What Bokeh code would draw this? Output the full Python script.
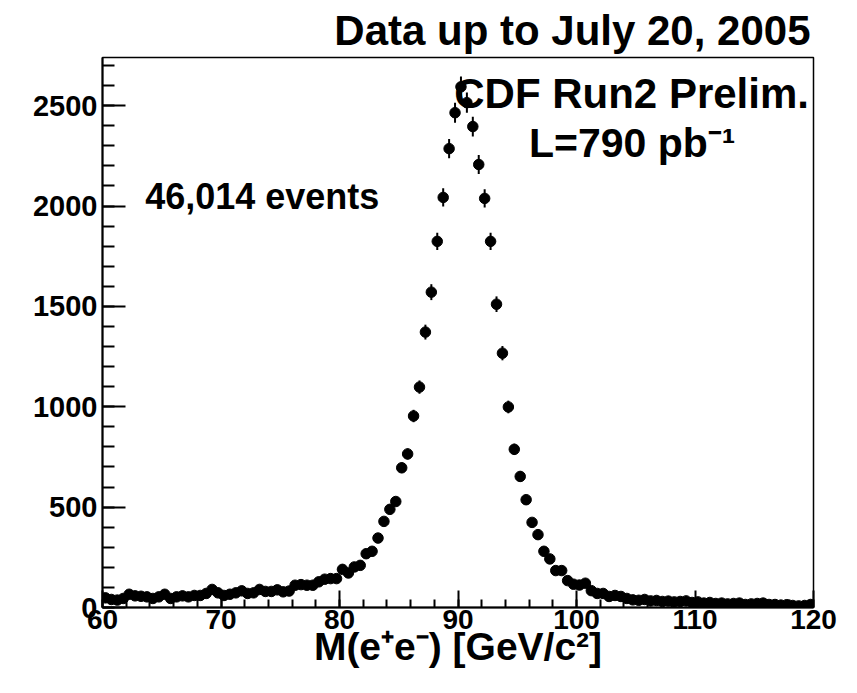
import numpy as np
from bokeh.plotting import figure
from bokeh.models import Range1d, FixedTicker, Label, ColumnDataSource
from bokeh.embed import file_html
from bokeh.resources import INLINE

# ---- data: dielectron invariant mass histogram (0.5 GeV bins, 60-120 GeV)
bin_low = 60.0
bin_width = 0.5
counts = [
    48, 40, 37, 45, 66, 58, 56, 53, 45, 53,          # 60 - 65
    66, 45, 53, 58, 53, 60, 60, 70, 90, 73,          # 65 - 70
    60, 66, 73, 83, 70, 73, 90, 80, 80, 88,          # 70 - 75
    78, 82, 111, 114, 111, 111, 128, 141, 144, 144,  # 75 - 80
    190, 172, 202, 210, 268, 280, 346, 429, 489, 528,  # 80 - 85
    696, 765, 954, 1098, 1372, 1571, 1824, 2043, 2286, 2465,  # 85 - 90
    2594, 2515, 2396, 2207, 2038, 1824, 1511, 1267, 999, 788,  # 90 - 95
    653, 537, 424, 363, 280, 242, 184, 184, 134, 116,  # 95 - 100
    112, 121, 84, 70, 70, 55, 60, 55, 45, 38,        # 100 - 105
    36, 40, 33, 35, 30, 32, 28, 30, 33, 25,          # 105 - 110
    28, 22, 25, 20, 22, 18, 20, 22, 15, 18,          # 110 - 115
    20, 22, 15, 15, 12, 14, 10, 8, 10, 15,           # 115 - 120
]
x_major = [60, 70, 80, 90, 100, 110, 120]
x_minor = list(range(60, 121, 2))
y_major = [0, 500, 1000, 1500, 2000, 2500]
y_minor = list(range(0, 2701, 100))

title_text = "Data up to July 20, 2005"
exp_text = "CDF Run2 Prelim."
lumi_text = "L=790 pb\u207b\u00b9"
events_text = "46,014 events"
xlabel_text = "M(e\u207ae\u207b) [GeV/c\u00b2]"

centers = bin_low + bin_width * (np.arange(len(counts)) + 0.5)
cnt = np.array(counts, dtype=float)
err = np.sqrt(cnt)
src = ColumnDataSource(dict(x=centers, y=cnt, lo=cnt - err, hi=cnt + err))

FONT = "Liberation Sans"

p = figure(width=841, height=677, output_backend="svg", toolbar_location=None,
           x_range=Range1d(60, 120), y_range=Range1d(0, 2740),
           min_border_left=102, min_border_right=28,
           min_border_top=57, min_border_bottom=70)
p.xgrid.visible = False
p.ygrid.visible = False
p.outline_line_color = "black"
p.outline_line_width = 1.5
p.background_fill_color = "white"
p.border_fill_color = "white"

p.title.text = title_text
p.title.align = "right"
p.title.text_font = FONT
p.title.text_font_style = "bold"
p.title.text_font_size = "42px"
p.title.text_color = "black"
p.title.standoff = 7
p.title.offset = 3

xa = p.xaxis[0]
xa.ticker = FixedTicker(ticks=x_major, minor_ticks=x_minor)
xa.major_tick_in = 17
xa.major_tick_out = 0
xa.minor_tick_in = 8
xa.minor_tick_out = 0
xa.axis_line_width = 2
xa.major_tick_line_width = 2
xa.minor_tick_line_width = 2
xa.major_label_text_font = FONT
xa.major_label_text_font_style = "bold"
xa.major_label_text_font_size = "28px"
xa.major_label_standoff = 2
xa.major_label_text_color = "black"
xa.axis_label = xlabel_text
xa.axis_label_text_font = FONT
xa.axis_label_text_font_style = "bold"
xa.axis_label_text_font_size = "39px"
xa.axis_label_text_color = "black"
xa.axis_label_standoff = -7

ya = p.yaxis[0]
ya.ticker = FixedTicker(ticks=y_major, minor_ticks=y_minor)
ya.major_tick_in = 23
ya.major_tick_out = 0
ya.minor_tick_in = 12
ya.minor_tick_out = 0
ya.axis_line_width = 2
ya.major_tick_line_width = 2
ya.minor_tick_line_width = 2
ya.major_label_text_font = FONT
ya.major_label_text_font_style = "bold"
ya.major_label_text_font_size = "29px"
ya.major_label_standoff = 5
ya.major_label_text_color = "black"

p.segment(x0="x", y0="lo", x1="x", y1="hi", source=src,
          line_color="black", line_width=2)
p.scatter(x="x", y="y", source=src, marker="circle", size=10.5,
          fill_color="black", line_color="black")

def lab(x, y, text, size, align):
    p.add_layout(Label(x=x, y=y, text=text, text_font=FONT,
                       text_font_style="bold", text_font_size=size,
                       text_align=align, text_baseline="alphabetic",
                       text_color="black"))

lab(104.65, 2560, exp_text, "42px", "center")
lab(104.7, 2312, lumi_text, "41px", "center")
lab(63.6, 2046, events_text, "36px", "left")

open("out.html", "w").write(file_html(p, INLINE))
